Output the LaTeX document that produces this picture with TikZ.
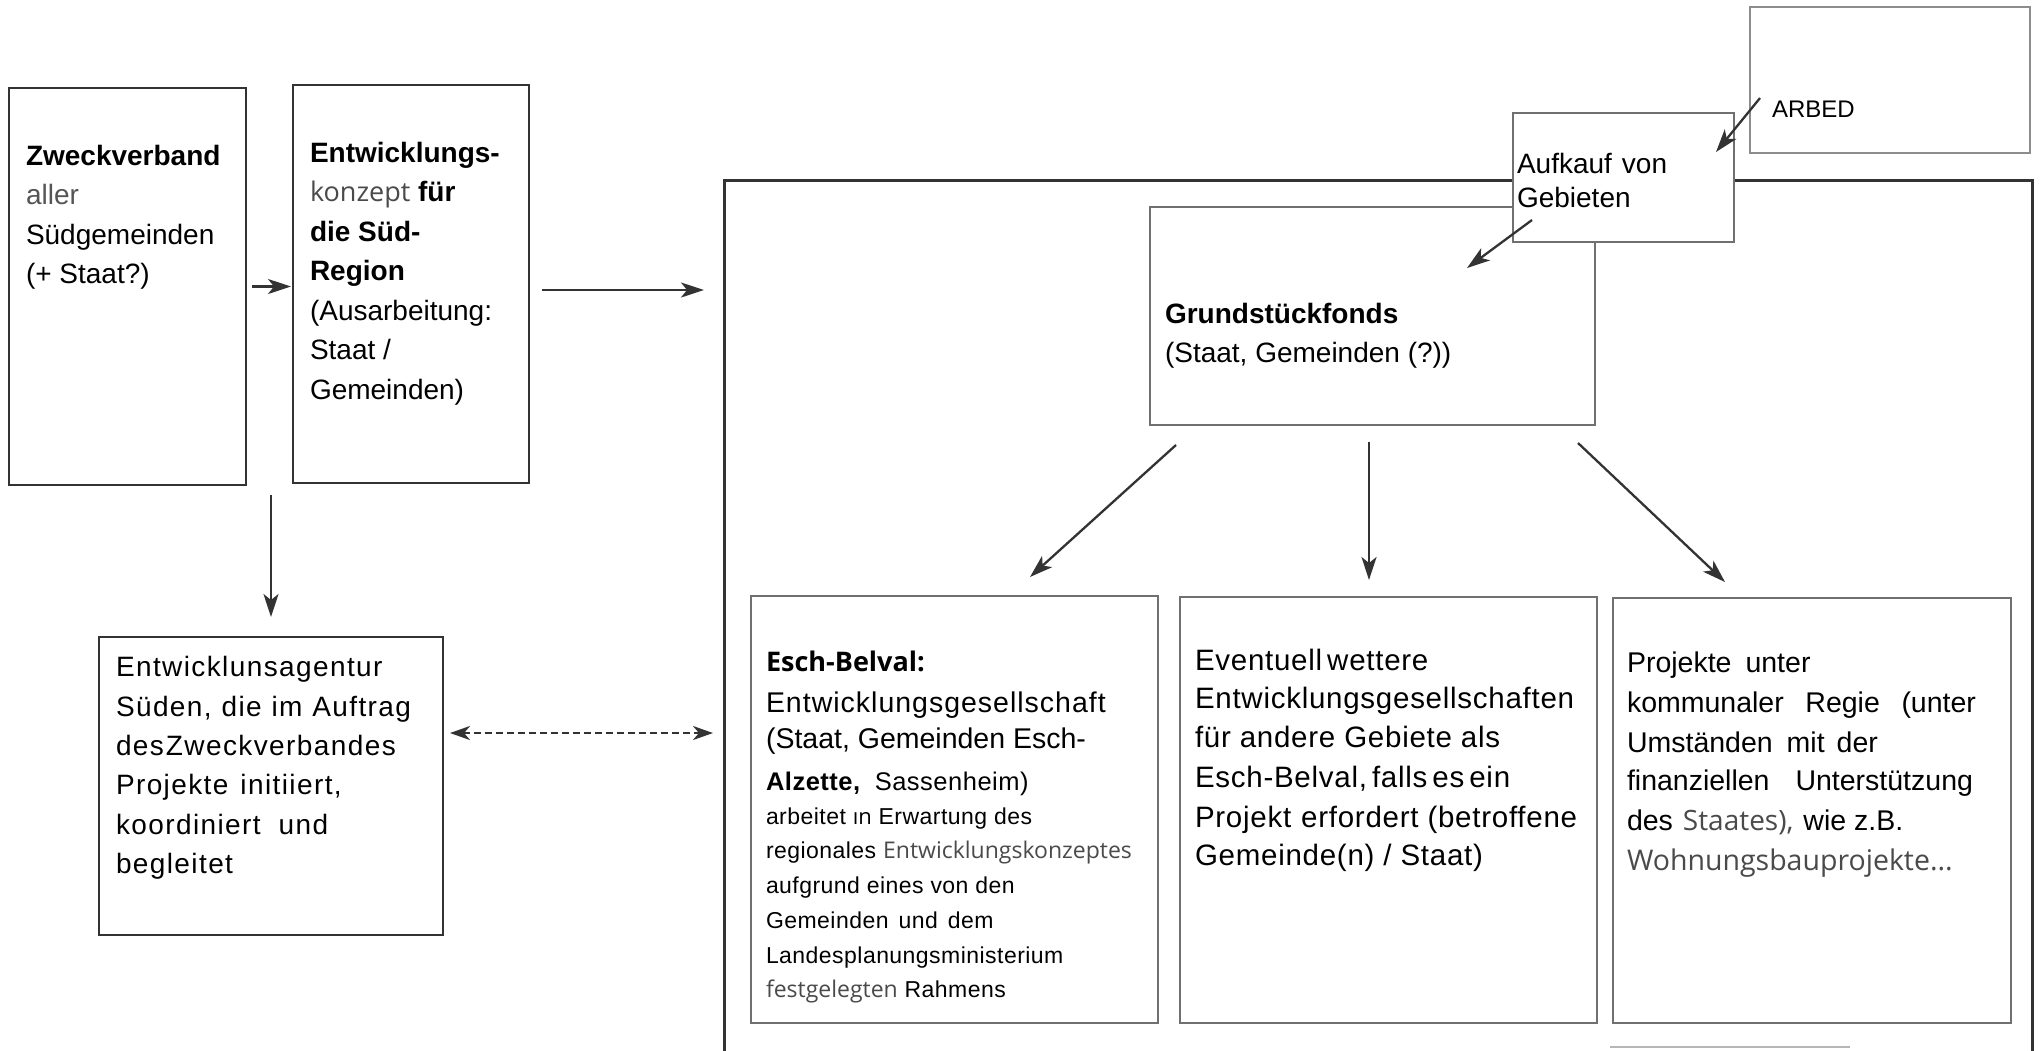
\documentclass[tikz,border=0pt]{standalone}
\usepackage{fontspec}
\setmainfont{Liberation Sans}
\newfontfamily\seg{Open Sans}
\usetikzlibrary{arrows.meta}
\definecolor{ln}{HTML}{333333}
\definecolor{lnl}{HTML}{707070}
\definecolor{segc}{HTML}{4A4A4A}
\definecolor{gr}{HTML}{555555}
\newcommand\fsz[1]{\fontsize{#1pt}{#1pt}\selectfont}
\newcommand\lsp[1]{\addfontfeatures{LetterSpace=#1}}
\tikzset{
  bx/.style={draw=ln, line width=2.6pt, anchor=north west, inner sep=0pt, outer sep=0pt, fill=white},
  bxl/.style={draw=lnl, line width=1.6pt, anchor=north west, inner sep=0pt, outer sep=0pt, fill=white},
  frm/.style={draw=ln, line width=3pt},
  txt/.style={anchor=base west, inner sep=0pt, outer sep=0pt, text=black},
  arr/.style={draw=ln, line width=2.3pt, -{Stealth[length=23pt,width=15pt,inset=6pt]}},
  darr/.style={draw=ln, line width=2.6pt, dash pattern=on 7pt off 4pt,
    {Stealth[length=20pt,width=14pt,inset=6pt]}-{Stealth[length=20pt,width=14pt,inset=6pt]}},
}
\begin{document}
\begin{tikzpicture}[x=1pt,y=-1pt]
\useasboundingbox (0,0) rectangle (2041,1050);
\fill[white] (0,0) rectangle (2041,1050);

% big frame
\draw[frm] (724,1070) -- (724,180) -- (2032,180) -- (2032,1070);
\draw[draw=lnl!50, line width=1.5pt] (1610,1047) -- (1850,1047);

% boxes
\node[bx, minimum width=237pt, minimum height=397pt] (zweck) at (9,88) {};
\node[bx, minimum width=236pt, minimum height=398pt] (konzept) at (293,85) {};
\node[bx, minimum width=344pt, minimum height=298pt] (agentur) at (99,637) {};
\node[bxl, minimum width=445pt, minimum height=218pt] (grund) at (1150,207) {};
\node[bxl, minimum width=221pt, minimum height=129pt] (aufkauf) at (1513,113) {};
\node[bxl, draw=lnl!80, minimum width=280pt, minimum height=146pt] (arbed) at (1750,7) {};
\node[bxl, minimum width=407pt, minimum height=427pt] (boxA) at (751,596) {};
\node[bxl, minimum width=417pt, minimum height=426pt] (boxB) at (1180,597) {};
\node[bxl, minimum width=398pt, minimum height=425pt] (boxC) at (1613,598) {};

% coordinates for free ends
\coordinate (frameL) at (724,290);
\coordinate (frameD) at (724,733);
\coordinate (arS) at (1760,98);
\coordinate (arE) at (1716,152);
\coordinate (aufS) at (1532,220);
\coordinate (aufE) at (1467,268);
\coordinate (gA) at (1176,445);
\coordinate (tA) at (1030,577);
\coordinate (gB) at (1369,442);
\coordinate (tB) at (1369,580);
\coordinate (gC) at (1578,443);
\coordinate (tC) at (1725,582);

% connectors
\draw[arr, shorten <=6pt, shorten >=2pt] (zweck.east) -- (zweck.east -| konzept.west);
\draw[arr, shorten <=13pt, shorten >=20pt] (konzept.east |- frameL) -- (frameL);
\draw[arr, shorten <=10pt, shorten >=20pt] (agentur.north |- zweck.south) -- (agentur.north);
\draw[darr, shorten <=7pt, shorten >=11pt] (agentur.east |- frameD) -- (frameD);
\draw[arr] (arS) -- (arE);
\draw[arr] (aufS) -- (aufE);
\draw[arr] (gA) -- (tA);
\draw[arr] (gB) -- (tB);
\draw[arr] (gC) -- (tC);

% Box 1
\begin{scope}[every node/.style={txt, font=\fsz{28}}]
\node (z1) at (26,165) {\textbf{Zweckverband}};
\node (z2) at (26,204.5) {\color{gr}aller};
\node (z3) at (26,244) {Südgemeinden};
\node (z4) at (26,283.5) {(+ Staat?)};
% Box 2
\node (k1) at (310,162) {\textbf{Entwicklungs-}};
\node (k2) at (310,201.5) {{\seg\fsz{27}\color{segc}konzept} \textbf{für}};
\node (k3) at (310,241) {\textbf{die Süd-}};
\node (k4) at (310,280.5) {\textbf{Region}};
\node (k5) at (310,320) {(Ausarbeitung:};
\node (k6) at (310,359.5) {Staat /};
\node (k7) at (310,399) {Gemeinden)};
% Grund
\node (g1) at (1165,323) {\textbf{Grundstückfonds}};
\node (g2) at (1165,362) {(Staat, Gemeinden (?))};
% Aufkauf
\node (au1) at (1517,173) {Aufkauf\hspace{10pt}von};
\node (au2) at (1517,207) {Gebieten};
\end{scope}

\node[txt, font=\fsz{24}] (ar1) at (1772,117) {ARBED};

% Agentur
\begin{scope}[every node/.style={txt, font=\fsz{28}\lsp{5}}]
\node (ag1) at (116,676) {Entwicklunsagentur};
\node (ag2) at (116,716) {\makebox[295pt][s]{Süden, die im Auftrag}};
\node (ag3) at (116,755) {des\hspace{2pt}Zweckverbandes};
\node (ag4) at (116,794.5) {Projekte\hspace{12pt}initiiert,};
\node (ag5) at (116,834) {koordiniert\hspace{18pt}und};
\node (ag6) at (116,873.5) {begleitet};
\end{scope}

% Box A
\node[txt, font=\seg\bfseries\fsz{27}\color{segc}] (a1) at (766,671) {Esch-Belval:};
\node[txt, font=\fsz{28.5}\lsp{3.5}] (a2) at (766,712) {Entwicklungsgesellschaft};
\node[txt, font=\fsz{28.5}] (a3) at (766,748) {(Staat, Gemeinden Esch-};
\node[txt, font=\fsz{25.5}\lsp{2}] (a4) at (766,790) {\textbf{Alzette,}\hspace{14pt}Sassenheim)};
\begin{scope}[every node/.style={txt, font=\fsz{23}\lsp{2}}]
\node (a5) at (766,824) {arbeitet {\seg\fsz{22}ın} Erwartung des};
\node (a6) at (766,858) {regionales {\seg\fsz{23}\color{segc}Entwicklungskonzeptes}};
\node (a7) at (766,893) {aufgrund eines von den};
\node (a8) at (766,928) {Gemeinden\hspace{10pt}und\hspace{10pt}dem};
\node (a9) at (766,963) {Landesplanungsministerium};
\node (a10) at (766,997) {{\seg\fsz{23}\color{segc}festgelegten} Rahmens};
\end{scope}

% Box B
\begin{scope}[every node/.style={txt, font=\fsz{29.5}\lsp{2.5}}]
\node (b1) at (1195,670) {Eventuell\hspace{5pt}wettere};
\node (b2) at (1195,708) {Entwicklungsgesellschaften};
\node (b3) at (1195,747) {für andere Gebiete als};
\node (b4) at (1195,787) {Esch-Belval,\hspace{5pt}falls\hspace{5pt}es\hspace{5pt}ein};
\node (b5) at (1195,827) {Projekt\hspace{10pt}erfordert (betroffene};
\node (b6) at (1195,865) {Gemeinde(n) / Staat)};
\end{scope}

% Box C
\begin{scope}[every node/.style={txt, font=\fsz{28.5}}]
\node (c1) at (1627,672) {Projekte\hspace{14pt}unter};
\node (c2) at (1627,712) {\makebox[349pt][s]{kommunaler Regie (unter}};
\node (c3) at (1627,752) {Umständen\hspace{14pt}mit\hspace{12pt}der};
\node (c4) at (1627,790) {\makebox[346pt][s]{finanziellen Unterstützung}};
\node (c5) at (1627,830) {des\hspace{10pt}{\seg\fsz{28}\color{segc}Staates),}\hspace{10pt}wie z.B.};
\node (c6) at (1627,870) {{\seg\fsz{28.5}\color{segc}Wohnungsbauprojekte...}};
\end{scope}
\end{tikzpicture}
\end{document}
